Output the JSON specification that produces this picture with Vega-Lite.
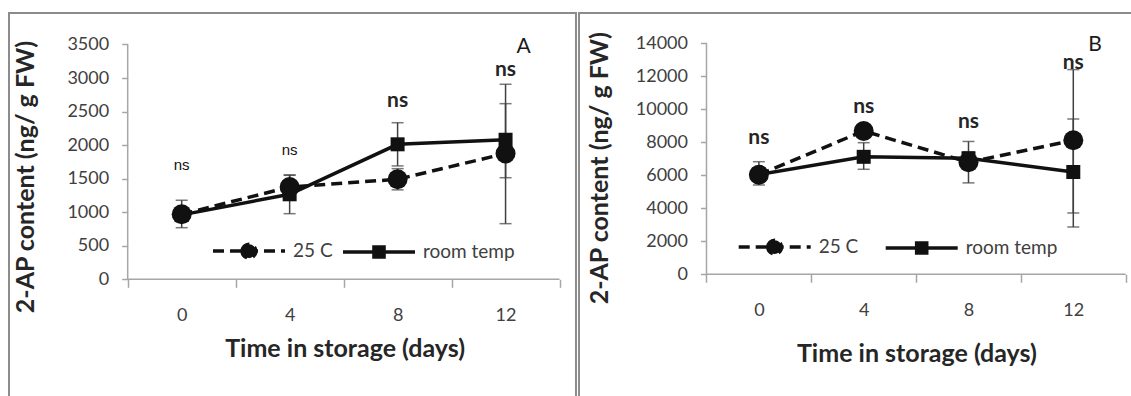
{
  "$schema": "https://vega.github.io/schema/vega-lite/v6.json",
  "background": "white",
  "padding": {"left": 8, "top": 12, "right": 0, "bottom": 0},
  "spacing": 1,
  "config": {"font": "Lato", "view": {"stroke": null}},
  "datasets": {
    "a": [
      {"day": 0, "series": "25 C", "mean": 969, "lo": 769, "hi": 1178},
      {"day": 4, "series": "25 C", "mean": 1375, "lo": 1200, "hi": 1550},
      {"day": 8, "series": "25 C", "mean": 1491, "lo": 1333, "hi": 1649},
      {"day": 12, "series": "25 C", "mean": 1875, "lo": 829, "hi": 2907},
      {"day": 0, "series": "room temp", "mean": 960, "lo": 860, "hi": 1060},
      {"day": 4, "series": "room temp", "mean": 1267, "lo": 978, "hi": 1556},
      {"day": 8, "series": "room temp", "mean": 2012, "lo": 1690, "hi": 2334},
      {"day": 12, "series": "room temp", "mean": 2080, "lo": 1514, "hi": 2618}
    ],
    "ans": [
      {"day": 0, "y": 1629, "label": "ns", "style": "plain"},
      {"day": 4, "y": 1853, "label": "ns", "style": "plain"},
      {"day": 8, "y": 2568, "label": "ns", "style": "bold"},
      {"day": 12, "y": 3030, "label": "ns", "style": "bold"}
    ],
    "b": [
      {"day": 0, "series": "25 C", "mean": 6036, "lo": 5412, "hi": 6824},
      {"day": 4, "series": "25 C", "mean": 8685, "lo": 8435, "hi": 8935},
      {"day": 8, "series": "25 C", "mean": 6790, "lo": 5540, "hi": 8050},
      {"day": 12, "series": "25 C", "mean": 8121, "lo": 3715, "hi": 12406},
      {"day": 0, "series": "room temp", "mean": 6050, "lo": 5750, "hi": 6350},
      {"day": 4, "series": "room temp", "mean": 7120, "lo": 6364, "hi": 7976},
      {"day": 8, "series": "room temp", "mean": 7030, "lo": 6630, "hi": 7430},
      {"day": 12, "series": "room temp", "mean": 6200, "lo": 2867, "hi": 9412}
    ],
    "bns": [
      {"day": 0, "y": 7879, "label": "ns", "style": "bold"},
      {"day": 4, "y": 9794, "label": "ns", "style": "bold"},
      {"day": 8, "y": 8885, "label": "ns", "style": "bold"},
      {"day": 12, "y": 12412, "label": "ns", "style": "bold"}
    ]
  },
  "hconcat": [
    {
      "width": 567,
      "height": 383,
      "view": {"stroke": "#8c8c8c", "strokeWidth": 2, "strokeDash": [950, 567, 383], "fill": null},
      "layer": [
        {
          "data": {"name": "a"},
          "mark": {"type": "rule", "color": "#404040", "strokeWidth": 1.5},
          "encoding": {
            "x": {"field": "day", "type": "quantitative",
              "scale": {"domain": [-6.398, 14.61], "nice": false, "zero": false},
              "axis": {"orient": "bottom", "offset": -116.7, "values": [-2, 0, 2, 4, 6, 8, 10, 12, 14], "domain": false, "grid": false,
                "labelExpr": "datum.value % 4 === 0 ? datum.label : ''",
                "tickOpacity": {"condition": {"test": "datum.value % 4 === 0", "value": 0}, "value": 1},
                "tickSize": 8, "tickWidth": 1.5, "tickColor": "#a6a6a6",
                "labelFont": "Lato", "labelFontSize": 18, "labelColor": "#404040", "labelPadding": 19, "labelFlush": false, "labelOverlap": false,
                "title": "Time in storage (days)", "titleFont": "Lato", "titleFontSize": 25, "titleFontWeight": "bold", "titleColor": "#262626",
                "titleX": 335.6, "titleY": 69, "titleBaseline": "middle", "titleAlign": "center"}},
            "y": {"field": "lo", "type": "quantitative",
              "scale": {"domain": [-1740, 3969.5], "nice": false, "zero": false},
              "axis": {"orient": "left", "offset": -118.7, "values": [0, 500, 1000, 1500, 2000, 2500, 3000, 3500], "format": "d", "domain": false, "grid": false,
                "tickSize": 6, "tickWidth": 1.5, "tickColor": "#a6a6a6",
                "labelFont": "Lato", "labelFontSize": 18, "labelColor": "#404040", "labelPadding": 13,
                "title": "2-AP content (ng/ g FW)", "titleFont": "Lato", "titleFontSize": 25, "titleFontWeight": "bold", "titleColor": "#262626",
                "titleX": -102, "titleY": 163.5, "titleAngle": -90, "titleBaseline": "middle", "titleAlign": "center"}},
            "y2": {"field": "hi"}
          }
        },
        {
          "data": {"name": "a"},
          "mark": {"type": "tick", "orient": "horizontal", "size": 12, "thickness": 1.5, "color": "#404040"},
          "encoding": {"x": {"field": "day", "type": "quantitative"}, "y": {"field": "lo", "type": "quantitative"}}
        },
        {
          "data": {"name": "a"},
          "mark": {"type": "tick", "orient": "horizontal", "size": 12, "thickness": 1.5, "color": "#404040"},
          "encoding": {"x": {"field": "day", "type": "quantitative"}, "y": {"field": "hi", "type": "quantitative"}}
        },
        {
          "data": {"values": [{}]},
          "mark": {"type": "rule", "color": "#a6a6a6", "strokeWidth": 1.5},
          "encoding": {"x": {"datum": -2, "type": "quantitative"}, "x2": {"datum": 14}, "y": {"datum": 0, "type": "quantitative"}}
        },
        {
          "data": {"values": [{}]},
          "mark": {"type": "rule", "color": "#a6a6a6", "strokeWidth": 1.5},
          "encoding": {"x": {"datum": -2, "type": "quantitative"}, "y": {"datum": 0, "type": "quantitative"}, "y2": {"datum": 3500}}
        },
        {
          "data": {"name": "a"},
          "transform": [{"filter": "datum.series === '25 C'"}],
          "mark": {"type": "line", "strokeWidth": 3.5, "color": "#111111", "strokeDash": [11, 6]},
          "encoding": {"x": {"field": "day", "type": "quantitative"}, "y": {"field": "mean", "type": "quantitative"}}
        },
        {
          "data": {"name": "a"},
          "transform": [{"filter": "datum.series === 'room temp'"}],
          "mark": {"type": "line", "strokeWidth": 3.5, "color": "#111111"},
          "encoding": {"x": {"field": "day", "type": "quantitative"}, "y": {"field": "mean", "type": "quantitative"}}
        },
        {
          "data": {"name": "a"},
          "transform": [{"filter": "datum.series === '25 C'"}],
          "mark": {"type": "point", "shape": "circle", "filled": true, "opacity": 1, "size": 400, "color": "#111111"},
          "encoding": {"x": {"field": "day", "type": "quantitative"}, "y": {"field": "mean", "type": "quantitative"}}
        },
        {
          "data": {"name": "a"},
          "transform": [{"filter": "datum.series === 'room temp'"}],
          "mark": {"type": "point", "shape": "square", "filled": true, "opacity": 1, "size": 196, "color": "#111111"},
          "encoding": {"x": {"field": "day", "type": "quantitative"}, "y": {"field": "mean", "type": "quantitative"}}
        },
        {
          "data": {"name": "a"},
          "transform": [{"filter": "false"}],
          "mark": {"type": "point", "filled": false, "opacity": 1, "size": 5184, "fill": "#111111", "stroke": "#111111", "strokeWidth": 3.5},
          "encoding": {
            "x": {"field": "day", "type": "quantitative"},
            "y": {"field": "mean", "type": "quantitative"},
            "shape": {"field": "series", "type": "nominal",
              "scale": {"domain": ["25 C", "room temp"], "range": ["M-1,0L1,0M-0.19,0A0.19,0.19,0,1,1,0.19,0A0.19,0.19,0,1,1,-0.19,0Z", "M-1,0L1,0M-0.14,-0.14L0.14,-0.14L0.14,0.14L-0.14,0.14Z"]},
              "legend": {"orient": "none", "legendX": 202, "legendY": 200, "direction": "horizontal", "title": null,
                "symbolSize": 5184, "symbolStrokeWidth": 3.5, "symbolOpacity": 1,
                "labelFont": "Lato", "labelFontSize": 19, "labelColor": "#404040", "labelOffset": 6, "columnPadding": 3, "padding": 0}},
            "strokeDash": {"field": "series", "type": "nominal",
              "scale": {"domain": ["25 C", "room temp"], "range": [[11, 6], [1, 0]]},
              "legend": {"orient": "none", "legendX": 202, "legendY": 200, "direction": "horizontal", "title": null,
                "symbolSize": 5184, "symbolStrokeWidth": 3.5, "symbolOpacity": 1,
                "labelFont": "Lato", "labelFontSize": 19, "labelColor": "#404040", "labelOffset": 6, "columnPadding": 3, "padding": 0}}
          }
        },
        {
          "data": {"name": "ans"},
          "transform": [{"filter": "datum.style === 'plain'"}],
          "mark": {"type": "text", "font": "Liberation Sans", "fontSize": 15, "color": "#111111", "baseline": "alphabetic", "align": "center"},
          "encoding": {"x": {"field": "day", "type": "quantitative"}, "y": {"field": "y", "type": "quantitative"}, "text": {"field": "label"}}
        },
        {
          "data": {"name": "ans"},
          "transform": [{"filter": "datum.style === 'bold'"}],
          "mark": {"type": "text", "font": "Lato", "fontSize": 21, "fontWeight": "bold", "color": "#262626", "baseline": "alphabetic", "align": "center"},
          "encoding": {"x": {"field": "day", "type": "quantitative"}, "y": {"field": "y", "type": "quantitative"}, "text": {"field": "label"}}
        },
        {
          "data": {"values": [{}]},
          "mark": {"type": "text", "font": "Lato", "fontSize": 21, "color": "#1a1a1a", "baseline": "alphabetic", "align": "center"},
          "encoding": {"x": {"datum": 12.665, "type": "quantitative"}, "y": {"datum": 3378, "type": "quantitative"}, "text": {"value": "A"}}
        }
      ]
    },
    {
      "width": 555,
      "height": 383,
      "view": {"stroke": "#8c8c8c", "strokeWidth": 2, "strokeDash": [555, 938, 383], "fill": null},
      "layer": [
        {
          "data": {"name": "b"},
          "mark": {"type": "rule", "color": "#404040", "strokeWidth": 1.5},
          "encoding": {
            "x": {"field": "day", "type": "quantitative",
              "scale": {"domain": [-6.866, 14.317], "nice": false, "zero": false},
              "axis": {"orient": "bottom", "offset": -121.7, "values": [-2, 0, 2, 4, 6, 8, 10, 12, 14], "domain": false, "grid": false,
                "labelExpr": "datum.value % 4 === 0 ? datum.label : ''",
                "tickOpacity": {"condition": {"test": "datum.value % 4 === 0", "value": 0}, "value": 1},
                "tickSize": 8, "tickWidth": 1.5, "tickColor": "#a6a6a6",
                "labelFont": "Lato", "labelFontSize": 18, "labelColor": "#404040", "labelPadding": 19, "labelFlush": false, "labelOverlap": false,
                "title": "Time in storage (days)", "titleFont": "Lato", "titleFontSize": 25, "titleFontWeight": "bold", "titleColor": "#262626",
                "titleX": 337.4, "titleY": 79, "titleBaseline": "middle", "titleAlign": "center"}},
            "y": {"field": "lo", "type": "quantitative",
              "scale": {"domain": [-7376, 15836], "nice": false, "zero": false},
              "axis": {"orient": "left", "offset": -127.5, "values": [0, 2000, 4000, 6000, 8000, 10000, 12000, 14000], "format": "d", "domain": false, "grid": false,
                "tickSize": 6, "tickWidth": 1.5, "tickColor": "#a6a6a6",
                "labelFont": "Lato", "labelFontSize": 18, "labelColor": "#404040", "labelPadding": 13,
                "title": "2-AP content (ng/ g FW)", "titleFont": "Lato", "titleFontSize": 25, "titleFontWeight": "bold", "titleColor": "#262626",
                "titleX": -107, "titleY": 154.7, "titleAngle": -90, "titleBaseline": "middle", "titleAlign": "center"}},
            "y2": {"field": "hi"}
          }
        },
        {
          "data": {"name": "b"},
          "mark": {"type": "tick", "orient": "horizontal", "size": 12, "thickness": 1.5, "color": "#404040"},
          "encoding": {"x": {"field": "day", "type": "quantitative"}, "y": {"field": "lo", "type": "quantitative"}}
        },
        {
          "data": {"name": "b"},
          "mark": {"type": "tick", "orient": "horizontal", "size": 12, "thickness": 1.5, "color": "#404040"},
          "encoding": {"x": {"field": "day", "type": "quantitative"}, "y": {"field": "hi", "type": "quantitative"}}
        },
        {
          "data": {"values": [{}]},
          "mark": {"type": "rule", "color": "#a6a6a6", "strokeWidth": 1.5},
          "encoding": {"x": {"datum": -2, "type": "quantitative"}, "x2": {"datum": 14}, "y": {"datum": 0, "type": "quantitative"}}
        },
        {
          "data": {"values": [{}]},
          "mark": {"type": "rule", "color": "#a6a6a6", "strokeWidth": 1.5},
          "encoding": {"x": {"datum": -2, "type": "quantitative"}, "y": {"datum": 0, "type": "quantitative"}, "y2": {"datum": 14000}}
        },
        {
          "data": {"name": "b"},
          "transform": [{"filter": "datum.series === '25 C'"}],
          "mark": {"type": "line", "strokeWidth": 3.5, "color": "#111111", "strokeDash": [11, 6]},
          "encoding": {"x": {"field": "day", "type": "quantitative"}, "y": {"field": "mean", "type": "quantitative"}}
        },
        {
          "data": {"name": "b"},
          "transform": [{"filter": "datum.series === 'room temp'"}],
          "mark": {"type": "line", "strokeWidth": 3.5, "color": "#111111"},
          "encoding": {"x": {"field": "day", "type": "quantitative"}, "y": {"field": "mean", "type": "quantitative"}}
        },
        {
          "data": {"name": "b"},
          "transform": [{"filter": "datum.series === '25 C'"}],
          "mark": {"type": "point", "shape": "circle", "filled": true, "opacity": 1, "size": 400, "color": "#111111"},
          "encoding": {"x": {"field": "day", "type": "quantitative"}, "y": {"field": "mean", "type": "quantitative"}}
        },
        {
          "data": {"name": "b"},
          "transform": [{"filter": "datum.series === 'room temp'"}],
          "mark": {"type": "point", "shape": "square", "filled": true, "opacity": 1, "size": 196, "color": "#111111"},
          "encoding": {"x": {"field": "day", "type": "quantitative"}, "y": {"field": "mean", "type": "quantitative"}}
        },
        {
          "data": {"name": "b"},
          "transform": [{"filter": "false"}],
          "mark": {"type": "point", "filled": false, "opacity": 1, "size": 5184, "fill": "#111111", "stroke": "#111111", "strokeWidth": 3.5},
          "encoding": {
            "x": {"field": "day", "type": "quantitative"},
            "y": {"field": "mean", "type": "quantitative"},
            "shape": {"field": "series", "type": "nominal",
              "scale": {"domain": ["25 C", "room temp"], "range": ["M-1,0L1,0M-0.19,0A0.19,0.19,0,1,1,0.19,0A0.19,0.19,0,1,1,-0.19,0Z", "M-1,0L1,0M-0.14,-0.14L0.14,-0.14L0.14,0.14L-0.14,0.14Z"]},
              "legend": {"orient": "none", "legendX": 157.7, "legendY": 196, "direction": "horizontal", "title": null,
                "symbolSize": 5184, "symbolStrokeWidth": 3.5, "symbolOpacity": 1,
                "labelFont": "Lato", "labelFontSize": 19, "labelColor": "#404040", "labelOffset": 6, "columnPadding": 20, "padding": 0}},
            "strokeDash": {"field": "series", "type": "nominal",
              "scale": {"domain": ["25 C", "room temp"], "range": [[11, 6], [1, 0]]},
              "legend": {"orient": "none", "legendX": 157.7, "legendY": 196, "direction": "horizontal", "title": null,
                "symbolSize": 5184, "symbolStrokeWidth": 3.5, "symbolOpacity": 1,
                "labelFont": "Lato", "labelFontSize": 19, "labelColor": "#404040", "labelOffset": 6, "columnPadding": 20, "padding": 0}}
          }
        },
        {
          "data": {"name": "bns"},
          "mark": {"type": "text", "font": "Lato", "fontSize": 21, "fontWeight": "bold", "color": "#262626", "baseline": "alphabetic", "align": "center"},
          "encoding": {"x": {"field": "day", "type": "quantitative"}, "y": {"field": "y", "type": "quantitative"}, "text": {"field": "label"}}
        },
        {
          "data": {"values": [{}]},
          "mark": {"type": "text", "font": "Lato", "fontSize": 21, "color": "#1a1a1a", "baseline": "alphabetic", "align": "center"},
          "encoding": {"x": {"datum": 12.828, "type": "quantitative"}, "y": {"datum": 13533, "type": "quantitative"}, "text": {"value": "B"}}
        }
      ]
    }
  ],
  "resolve": {"scale": {"strokeDash": "independent", "shape": "independent"}, "legend": {"strokeDash": "independent", "shape": "independent"}}
}
